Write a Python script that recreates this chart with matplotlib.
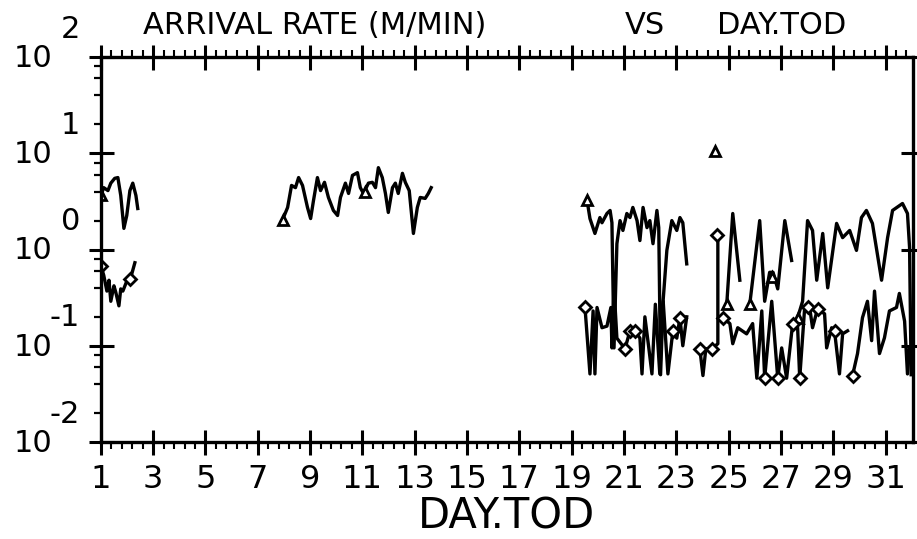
import numpy as np
import matplotlib
matplotlib.use("Agg")
import matplotlib.pyplot as plt

nan = np.nan

# upper series (triangle markers), NaN = break in the trace
up_days = [1.00, 1.11, 1.27, 1.38, 1.53, 1.65, 1.76, 1.88, 1.99, 2.11, 2.22, 2.34, 2.41, nan,
           7.95, 8.14, 8.29, 8.44, 8.56, 8.71, 8.90, 9.02, 9.13, 9.28, 9.40, 9.55, 9.70, 9.89,
           10.05, 10.16, 10.35, 10.47, 10.62, 10.81, 10.92, 11.04, 11.23, 11.38, 11.50, 11.61,
           11.76, 11.88, 11.99, 12.15, 12.26, 12.37, 12.53, 12.64, 12.79, 12.95, 13.10, 13.21,
           13.40, 13.52, 13.63, nan,
           19.59, 19.70, 19.89, 20.08, 20.16, 20.35, 20.47, 20.54, 20.62, 20.73, 20.85, 20.96,
           21.11, 21.23, 21.34, 21.50, 21.61, 21.73, 21.88, 21.99, 22.11, 22.26, 22.33, 22.40,
           22.50, 22.64, 22.83, 23.02, 23.14, 23.25, 23.40, nan,
           24.93, 25.16, 25.43, nan,
           25.81, 26.19, 26.38, 26.57, 26.70, 26.88, 27.15, 27.41, nan,
           27.64, 27.83, 28.02, 28.21, 28.37, 28.60, 28.79, 29.13, 29.36, 29.63, 29.89, 30.08,
           30.27, 30.50, 30.85, 31.08, 31.27, 31.65, 31.84, 31.92, 31.98]
up_vals = [3.65, 4.4, 4.1, 4.9, 5.5, 5.6, 3.65, 1.66, 2.26, 4.1, 4.9, 3.65, 2.67, nan,
           2.05, 2.74, 4.64, 4.4, 5.6, 4.64, 2.74, 2.1, 3.24, 5.6, 4.1, 5.0, 3.48, 2.55,
           2.26, 3.48, 4.9, 3.83, 5.9, 6.3, 4.4, 3.83, 4.9, 5.0, 4.4, 7.1,
           5.6, 3.83, 2.43, 4.4, 4.9, 3.83, 6.2, 5.0, 4.1, 1.47, 2.74, 3.48,
           3.4, 3.83, 4.4, nan,
           3.24, 2.1, 1.47, 2.15, 1.9, 2.37, 2.55, 1.9, 0.095, 1.15, 2.0, 1.58,
           2.37, 2.15, 2.74, 2.0, 1.24, 2.74, 1.69, 2.0, 1.15, 2.55, 1.69, 0.05,
           0.3, 0.98, 2.0, 1.58, 2.15, 1.9, 0.71, nan,
           0.27, 2.37, 0.48, nan,
           0.27, 2.0, 0.29, 0.58, 0.58, 0.39, 2.0, 0.77, nan,
           0.196, 0.29, 2.0, 1.58, 0.48, 1.47, 0.40, 1.87, 1.33, 1.58, 0.98, 2.15,
           2.55, 1.87, 0.48, 1.33, 2.55, 3.01, 2.37, 1.05, 0.05]

# lower series (diamond markers)
low_days = [1.00, 1.11, 1.23, 1.31, 1.38, 1.50, 1.57, 1.69, 1.76, 1.84, 1.92, 2.03, 2.15, 2.30, nan,
            19.51, 19.70, 19.82, 19.89, 19.97, 20.16, 20.35, 20.50, 20.54, 20.62, 20.73, 21.04,
            21.23, 21.42, 21.61, 21.69, 21.80, 21.95, 22.07, 22.20, 22.37, 22.50, 22.68, 22.87,
            23.02, 23.14, 23.25, 23.40, nan,
            23.90, 24.02, 24.13, 24.36, 24.59, 24.59, nan,
            24.78, 25.05, 25.16, 25.35, 25.69, 25.92, 26.08, 26.27, 26.38, 26.65, 26.88, 27.03,
            27.22, 27.45, 27.64, 27.72, 27.91, 28.10, 28.21, 28.40, 28.67, 28.75, 28.94, 29.05,
            29.24, 29.36, 29.55, nan,
            29.74, 29.93, 30.12, 30.31, 30.47, 30.58, 30.77, 30.96, 31.15, 31.42, 31.53, 31.73,
            31.84, 31.92]
low_vals = [0.68, 0.54, 0.37, 0.48, 0.29, 0.42, 0.36, 0.26, 0.39, 0.37, 0.42, 0.50, 0.52, 0.73, nan,
            0.25, 0.051, 0.23, 0.051, 0.25, 0.154, 0.16, 0.25, 0.095, 0.40, 0.12, 0.093,
            0.143, 0.143, 0.12, 0.051, 0.20, 0.095, 0.051, 0.27, 0.051, 0.29, 0.051, 0.143,
            0.12, 0.196, 0.10, 0.20, nan,
            0.093, 0.049, 0.093, 0.093, 0.105, 1.40, nan,
            0.196, 0.17, 0.105, 0.154, 0.133, 0.17, 0.046, 0.23, 0.046, 0.29, 0.046, 0.095,
            0.046, 0.17, 0.154, 0.046, 0.25, 0.25, 0.154, 0.24, 0.215, 0.095, 0.154, 0.143,
            0.051, 0.133, 0.143, nan,
            0.049, 0.083, 0.196, 0.29, 0.113, 0.37, 0.083, 0.121, 0.23, 0.25, 0.35, 0.18,
            0.051, 0.095]

tri_days = [1.0, 7.95, 11.1, 19.59, 24.47, 24.93, 25.81, 26.65, 27.64]
tri_vals = [3.65, 2.05, 4.0, 3.24, 10.7, 0.27, 0.27, 0.52, 0.196]
dia_days = [1.0, 2.1, 19.51, 21.04, 21.23, 21.42, 22.87, 23.14, 23.90, 24.36, 24.55, 24.78,
            26.38, 26.88, 27.45, 27.72, 28.02, 28.40, 29.05, 29.74]
dia_vals = [0.68, 0.50, 0.25, 0.093, 0.143, 0.143, 0.143, 0.196, 0.093, 0.093, 1.40, 0.196,
            0.046, 0.046, 0.17, 0.046, 0.25, 0.24, 0.143, 0.049]

x_ticks = list(range(1, 32, 2))
y_exponents = [2, 1, 0, -1, -2]

fig = plt.figure(figsize=(9.17, 5.39), dpi=100)
ax = fig.add_axes([0.11, 0.18, 0.8856, 0.714])

ax.plot(up_days, up_vals, color="black", lw=2.4)
ax.plot(low_days, low_vals, color="black", lw=2.4)
ax.plot(tri_days, tri_vals, ls="none", marker="^", ms=7, mfc="white", mec="black", mew=2)
ax.plot(dia_days, dia_vals, ls="none", marker="D", ms=6, mfc="white", mec="black", mew=2)

ax.set_yscale("log")
ax.set_ylim(1e-2, 1e2)
ax.set_xlim(1, 32.05)

ax.set_xticks(x_ticks)
ax.set_xticklabels([str(t) for t in x_ticks], fontsize=23)
ax.set_xticks(np.arange(1, 32.05, 0.4), minor=True)
ax.set_yticks([10.0 ** e for e in y_exponents])
ax.set_yticks([m * 10.0 ** e for e in range(-2, 2) for m in (2, 4, 6, 8)], minor=True)
ax.set_yticklabels([])
ax.set_yticklabels([], minor=True)

ax.tick_params(axis="x", which="major", direction="inout", length=18, width=2.2,
               top=True, bottom=True, pad=7)
ax.tick_params(axis="x", which="minor", direction="out", length=5, width=1.5, top=True)
ax.tick_params(axis="y", which="major", direction="inout", length=18, width=2.2,
               left=True, right=True)
ax.tick_params(axis="y", which="minor", direction="out", length=5, width=1.6,
               left=True, right=False)
for s in ax.spines.values():
    s.set_linewidth(2.4)

# y labels drawn as "10" with a raised exponent
for e in y_exponents:
    ax.annotate("10", xy=(0, 10.0 ** e), xycoords=("axes fraction", "data"),
                xytext=(-35, -1), textcoords="offset points",
                ha="right", va="center", fontsize=22)
    ax.annotate(str(e), xy=(0, 10.0 ** e), xycoords=("axes fraction", "data"),
                xytext=(-15, 20), textcoords="offset points",
                ha="right", va="center", fontsize=22)

fig.text(143 / 917, 1 - 26 / 539, "ARRIVAL RATE (M/MIN)", fontsize=22, va="center", ha="left")
fig.text(625 / 917, 1 - 26 / 539, "VS", fontsize=22, va="center", ha="left")
fig.text(717 / 917, 1 - 26 / 539, "DAY.TOD", fontsize=22, va="center", ha="left")
ax.set_xlabel("DAY.TOD", fontsize=30, labelpad=0)

fig.savefig("out.png", dpi=100)
